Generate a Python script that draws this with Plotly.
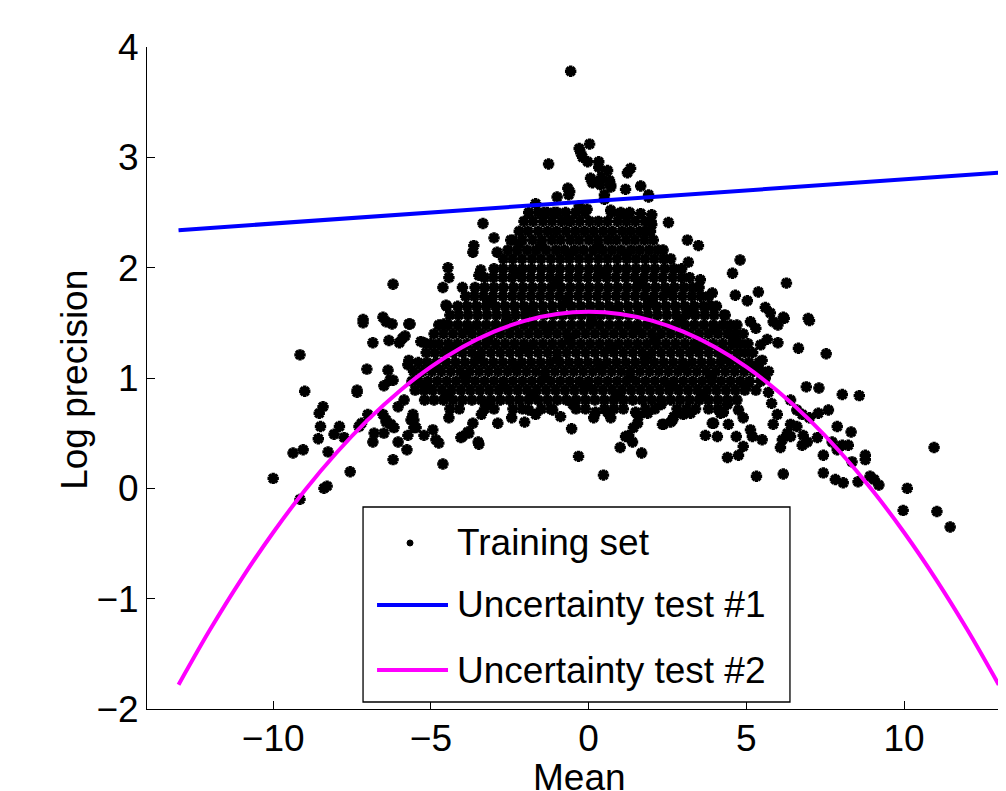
import plotly.graph_objects as go

# ---------------- data ----------------
# Training set, dense core: one entry per log-precision level, with the means seen at that level
core_logprec = [2.50, 2.42, 2.33, 2.25, 2.16, 2.08, 1.99, 1.91, 1.82, 1.74, 1.65,
                1.57, 1.48, 1.40, 1.31, 1.23, 1.14, 1.06, 0.97, 0.89, 0.80, 0.72]
core_mean = [
    [-1.9, -1.6, -1.31, -1.0, -0.73, -0.41, -0.12, 0.72, 1.02, 1.3],
    [-2.05, -1.76, -1.45, -1.16, -0.86, -0.57, -0.28, 0.03, 0.31, 0.6, 0.92, 1.2, 1.48, 1.78, 1.98],
    [-2.2, -1.92, -1.6, -1.3, -1.02, -0.72, -0.42, -0.13, 0.16, 0.46, 0.75, 1.06, 1.33, 1.62, 1.82],
    [-2.4, -2.1, -1.78, -1.48, -1.17, -0.89, -0.58, -0.3, 0.01, 0.3, 0.61, 0.88, 1.19, 1.47, 1.77, 2.05],
    [-2.56, -2.26, -1.95, -1.66, -1.35, -1.04, -0.76, -0.45, -0.16, 0.15, 0.44, 0.74, 1.03, 1.34, 1.62,
     1.92, 2.2, 2.36],
    [-2.7, -2.41, -2.11, -1.8, -1.51, -1.2, -0.9, -0.61, -0.3, 0.0, 0.31, 0.6, 0.9, 1.21, 1.5, 1.79,
     2.08, 2.37, 2.6],
    [-3.0, -2.71, -2.4, -2.1, -1.81, -1.5, -1.2, -0.91, -0.6, -0.3, 0.01, 0.3, 0.6, 0.91, 1.2, 1.5,
     1.8, 2.1, 2.41, 2.7, 2.95],
    [-3.3, -3.02, -2.72, -2.43, -2.12, -1.83, -1.52, -1.22, -0.93, -0.62, -0.33, -0.03, 0.27, 0.57,
     0.86, 1.17, 1.46, 1.76, 2.06, 2.35, 2.66, 2.95, 3.2],
    [-3.6, -3.3, -3.0, -2.7, -2.38, -2.08, -1.78, -1.48, -1.18, -0.88, -0.58, -0.28, 0.02, 0.32, 0.62,
     0.92, 1.22, 1.52, 1.82, 2.12, 2.42, 2.72, 3.02, 3.3, 3.5],
    [-3.9, -3.62, -3.33, -3.03, -2.72, -2.42, -2.13, -1.83, -1.53, -1.23, -0.93, -0.63, -0.33, -0.03,
     0.27, 0.57, 0.87, 1.17, 1.47, 1.77, 2.07, 2.37, 2.67, 2.97, 3.27, 3.55, 3.8],
    [-4.15, -3.85, -3.55, -3.25, -2.95, -2.65, -2.35, -2.05, -1.75, -1.45, -1.15, -0.85, -0.55, -0.25,
     0.05, 0.35, 0.65, 0.95, 1.25, 1.55, 1.85, 2.15, 2.45, 2.75, 3.05, 3.35, 3.65, 3.9, 4.05],
    [-4.4, -4.12, -3.82, -3.52, -3.22, -2.92, -2.62, -2.32, -2.02, -1.72, -1.42, -1.12, -0.82, -0.52,
     -0.22, 0.08, 0.38, 0.68, 0.98, 1.28, 1.58, 1.88, 2.18, 2.48, 2.78, 3.08, 3.38, 3.68, 3.98, 4.3],
    [-4.75, -4.45, -4.15, -3.85, -3.55, -3.25, -2.95, -2.65, -2.35, -2.05, -1.75, -1.45, -1.15, -0.85,
     -0.55, -0.25, 0.05, 0.35, 0.65, 0.95, 1.25, 1.55, 1.85, 2.15, 2.45, 2.75, 3.05, 3.35, 3.65, 3.95,
     4.25, 4.5, 4.7],
    [-4.9, -4.6, -4.3, -4.0, -3.7, -3.4, -3.1, -2.8, -2.5, -2.2, -1.9, -1.6, -1.3, -1.0, -0.7, -0.4,
     -0.1, 0.2, 0.5, 0.8, 1.1, 1.4, 1.7, 2.0, 2.3, 2.6, 2.9, 3.2, 3.5, 3.8, 4.1, 4.4, 4.65, 4.9],
    [-5.0, -4.75, -4.45, -4.15, -3.85, -3.55, -3.25, -2.95, -2.65, -2.35, -2.05, -1.75, -1.45, -1.15,
     -0.85, -0.55, -0.25, 0.05, 0.35, 0.65, 0.95, 1.25, 1.55, 1.85, 2.15, 2.45, 2.75, 3.05, 3.35, 3.65,
     3.95, 4.25, 4.55, 4.8, 5.05],
    [-5.15, -4.88, -4.6, -4.3, -4.0, -3.7, -3.4, -3.1, -2.8, -2.5, -2.2, -1.9, -1.6, -1.3, -1.0, -0.7,
     -0.4, -0.1, 0.2, 0.5, 0.8, 1.1, 1.4, 1.7, 2.0, 2.3, 2.6, 2.9, 3.2, 3.5, 3.8, 4.1, 4.4, 4.7, 4.95, 5.2],
    [-5.4, -5.12, -4.82, -4.52, -4.22, -3.92, -3.62, -3.32, -3.02, -2.72, -2.42, -2.12, -1.82, -1.52,
     -1.22, -0.92, -0.62, -0.32, -0.02, 0.28, 0.58, 0.88, 1.18, 1.48, 1.78, 2.08, 2.38, 2.68, 2.98, 3.28,
     3.58, 3.88, 4.18, 4.48, 4.78, 5.08, 5.4],
    [-5.55, -5.27, -4.97, -4.67, -4.37, -4.07, -3.77, -3.47, -3.17, -2.87, -2.57, -2.27, -1.97, -1.67,
     -1.37, -1.07, -0.77, -0.47, -0.17, 0.13, 0.43, 0.73, 1.03, 1.33, 1.63, 1.93, 2.23, 2.53, 2.83, 3.13,
     3.43, 3.73, 4.03, 4.33, 4.63, 4.93, 5.23, 5.5],
    [-5.6, -5.4, -5.1, -4.8, -4.5, -4.2, -3.9, -3.6, -3.3, -3.0, -2.7, -2.4, -2.1, -1.8, -1.5, -1.2,
     -0.9, -0.6, -0.3, 0.0, 0.3, 0.6, 0.9, 1.2, 1.5, 1.8, 2.1, 2.4, 2.7, 3.0, 3.3, 3.6, 3.9, 4.2, 4.5,
     4.8, 5.1, 5.45],
    [-5.5, -5.22, -4.95, -4.65, -4.35, -4.05, -3.75, -3.45, -3.15, -2.85, -2.55, -2.25, -1.95, -1.65,
     -1.35, -1.05, -0.75, -0.45, -0.15, 0.15, 0.45, 0.75, 1.05, 1.35, 1.65, 1.95, 2.25, 2.55, 2.85, 3.15,
     3.45, 3.75, 4.05, 4.35, 4.65, 4.95, 5.3],
    [-5.2, -4.9, -4.6, -4.3, -4.0, -3.7, -3.4, -3.1, -2.8, -2.5, -2.2, -1.9, -1.6, -1.3, -1.0, -0.7,
     -0.4, -0.1, 0.2, 0.5, 0.8, 1.1, 1.4, 1.7, 2.0, 2.3, 2.6, 2.9, 3.2, 3.5, 3.8, 4.1, 4.4, 4.7],
    [-4.4, -4.1, -3.3, -3.0, -2.4, -2.1, -1.5, -1.2, -0.4, -0.1, 0.5, 0.8, 1.1, 1.8, 2.1, 2.8, 3.1,
     3.8, 4.1],
]

# Training set, scattered points: (mean, log precision)
outlier_points = [
    (-0.57, 3.78), (0.03, 3.12), (-0.3, 3.08), (-0.25, 3.04), (-0.19, 3.0), (-1.27, 2.94),
    (-0.03, 2.96), (0.32, 2.96), (0.32, 2.91), (0.6, 2.88), (1.23, 2.86), (1.33, 2.9),
    (0.06, 2.81), (0.16, 2.78), (0.41, 2.82), (0.66, 2.79), (0.7, 2.73), (1.65, 2.74),
    (-0.66, 2.72), (-0.6, 2.69), (1.17, 2.71), (1.9, 2.66), (0.5, 2.66), (0.12, 2.77),
    (0.38, 2.75), (0.7, 2.75), (1.9, 2.64), (-1.0, 2.64), (-0.63, 2.66), (-1.68, 2.58),
    (-1.42, 2.5), (-1.1, 2.5), (-0.67, 2.43), (-3.35, 2.40), (0.7, 2.52), (1.0, 2.49),
    (1.27, 2.48), (1.65, 2.49), (2.0, 2.48), (2.0, 2.39), (1.96, 2.33), (2.53, 2.41),
    (3.13, 2.25), (3.48, 2.2), (4.8, 2.07), (4.56, 1.95), (4.65, 1.75), (-3.0, 2.27),
    (-3.64, 2.2), (-3.67, 2.14), (-2.47, 2.25), (-2.2, 2.22), (-2.9, 2.14), (-4.46, 2.0),
    (-4.43, 1.91), (-4.62, 1.82), (-4.0, 1.82), (-4.5, 1.65), (-5.7, 1.49), (-3.42, 1.98),
    (-3.48, 1.93), (3.16, 2.05), (3.54, 1.89), (3.92, 1.77), (4.33, 1.57), (-0.3, 2.56),
    (-0.05, 2.53), (0.5, 2.62),
    (-6.2, 1.85), (-6.52, 1.55), (-7.15, 1.53),
    (6.27, 1.86), (5.38, 1.78), (5.03, 1.7), (5.6, 1.64), (5.76, 1.59), (6.17, 1.55), (6.96, 1.54),
    (5.85, 1.51), (6.0, 1.48), (6.2, 1.54), (5.13, 1.51), (7.0, 1.52), (5.66, 1.35), (6.0, 1.32),
    (6.65, 1.27), (7.53, 1.22), (5.5, 1.16), (5.7, 1.06), (5.6, 1.0), (6.9, 0.92), (7.3, 0.91),
    (8.04, 0.85), (8.58, 0.84), (6.4, 0.8), (5.7, 0.87), (5.8, 0.77), (5.98, 0.67), (5.85, 0.58),
    (6.6, 0.71), (6.77, 0.67), (7.0, 0.64), (7.28, 0.68), (7.6, 0.71), (6.4, 0.58), (6.6, 0.56),
    (6.3, 0.5), (6.14, 0.44), (6.4, 0.47), (6.8, 0.48), (6.93, 0.42), (6.77, 0.39), (7.25, 0.46),
    (7.88, 0.56), (8.32, 0.51), (7.72, 0.42), (8.04, 0.39), (8.23, 0.39), (7.88, 0.35), (6.08, 0.37),
    (7.44, 0.3), (8.77, 0.3), (8.77, 0.26), (8.35, 0.24), (7.44, 0.14), (7.82, 0.08), (8.07, 0.05),
    (8.54, 0.06), (8.92, 0.11), (9.05, 0.08), (9.2, 0.03), (10.1, 0.0), (9.97, -0.2), (11.04, -0.21),
    (11.46, -0.35), (10.95, 0.37), (5.32, 0.11), (6.17, 0.13), (4.4, 0.28), (4.75, 0.3), (4.9, 0.38),
    (3.7, 0.48), (4.08, 0.47), (4.68, 0.47), (5.13, 0.53), (5.19, 0.47), (5.5, 0.44), (4.43, 0.58),
    (3.92, 0.59), (2.34, 0.58), (2.66, 0.62), (3.0, 0.67), (4.9, 0.64), (4.75, 0.71), (5.3, 1.45),
    (5.45, 1.3),
    (-9.15, 1.21), (-9.0, 0.88), (-10.0, 0.09), (-9.37, 0.32), (-9.05, 0.35), (-8.42, 0.74),
    (-8.54, 0.68), (-8.5, 0.56), (-8.57, 0.45), (-8.26, 0.33), (-8.07, 0.49), (-7.9, 0.56),
    (-7.75, 0.46), (-7.56, 0.15), (-8.39, 0.0), (-8.29, 0.02), (-9.15, -0.1), (-7.34, 0.89),
    (-7.34, 0.87), (-7.03, 1.08), (-7.15, 1.5), (-6.84, 1.32), (-6.42, 1.51), (-6.23, 1.49),
    (-5.66, 1.49), (-6.33, 1.34), (-6.0, 1.32), (-5.9, 1.36), (-5.82, 1.38), (-5.32, 1.33),
    (-5.22, 1.32), (-4.52, 1.66), (-4.59, 1.49), (-5.7, 1.16), (-5.73, 1.12), (-6.36, 1.07),
    (-6.3, 0.98), (-6.2, 0.98), (-6.49, 0.93), (-7.0, 0.67), (-7.2, 0.59), (-7.28, 0.56),
    (-6.8, 0.5), (-6.84, 0.42), (-6.52, 0.67), (-6.42, 0.62), (-6.27, 0.58), (-6.17, 0.55),
    (-6.04, 0.42), (-5.76, 0.35), (-6.2, 0.26), (-5.73, 0.48), (-5.47, 0.55), (-5.22, 0.48),
    (-4.94, 0.53), (-4.84, 0.44), (-4.75, 0.41), (-6.04, 0.74), (-5.85, 0.8), (-5.57, 0.67),
    (-5.63, 0.62), (-4.62, 0.22), (-4.43, 0.64), (-4.0, 0.47), (-3.83, 0.51), (-3.5, 0.42),
    (-3.67, 0.59), (-3.4, 0.67), (-2.88, 0.59),
    (-4.05, 0.46), (-3.8, 0.5), (-3.48, 0.4), (-2.44, 0.64), (-2.03, 0.6), (-1.9, 0.71),
    (-1.68, 0.67), (-1.14, 0.71), (-0.89, 0.65), (-0.54, 0.54), (-0.32, 0.29), (0.47, 0.12),
    (0.16, 0.64), (0.22, 0.69), (0.6, 0.69), (0.7, 0.64), (1.0, 0.37), (1.17, 0.47), (1.27, 0.48),
    (1.39, 0.42), (1.42, 0.55), (1.55, 0.59), (1.58, 0.65), (1.49, 0.69), (1.68, 0.32),
    (1.87, 0.68), (2.37, 0.58), (2.6, 0.6), (2.7, 0.65), (3.23, 0.68), (3.39, 0.72), (3.96, 0.59),
    (4.18, 0.68), (4.27, 0.69), (-5.54, 0.62), (-5.54, 0.55), (-6.42, 0.6), (-6.49, 0.5),
    # extra points seen inside the dense core, between the row levels
    (-1.5, 2.2), (-0.6, 2.12), (0.3, 2.2), (1.2, 2.12), (-2.2, 1.95), (-1.0, 1.87), (0.4, 1.95),
    (1.6, 1.86), (2.6, 1.78), (-3.1, 1.7), (-1.9, 1.61), (-0.7, 1.69), (0.8, 1.61), (2.0, 1.69),
    (3.2, 1.6), (-3.8, 1.44), (-2.6, 1.52), (-1.3, 1.44), (0.1, 1.52), (1.5, 1.44), (2.9, 1.52),
    (4.0, 1.44), (-4.4, 1.27), (-3.2, 1.35), (-2.0, 1.27), (-0.6, 1.35), (0.7, 1.27), (2.1, 1.35),
    (3.4, 1.27), (4.6, 1.35), (-4.9, 1.1), (-3.5, 1.18), (-2.3, 1.1), (-1.0, 1.18), (0.4, 1.1),
    (1.8, 1.18), (3.0, 1.1), (4.3, 1.18), (5.3, 1.1), (-5.2, 0.93), (-3.9, 1.01), (-2.7, 0.93),
    (-1.4, 1.01), (-0.1, 0.93), (1.3, 1.01), (2.6, 0.93), (3.9, 1.01), (5.0, 0.93), (-4.5, 0.84),
    (-3.2, 0.76), (-1.8, 0.84), (-0.5, 0.76), (0.9, 0.84), (2.3, 0.76), (3.6, 0.84), (4.4, 0.76),
]

# Uncertainty test #1 (straight line) and #2 (curve)
test1_mean = [-13, 13]
test1_logprec = [2.34, 2.86]
test2_mean = [-13, -12, -11, -10, -9, -8, -7, -6, -5, -4, -3, -2, -1, 0,
              1, 2, 3, 4, 5, 6, 7, 8, 9, 10, 11, 12, 13]
test2_logprec = [-1.78, -1.28, -0.82, -0.40, -0.02, 0.32, 0.62, 0.88, 1.10, 1.28, 1.42, 1.52, 1.58, 1.60,
                 1.58, 1.52, 1.42, 1.28, 1.10, 0.88, 0.62, 0.32, -0.02, -0.40, -0.82, -1.28, -1.78]

x_ticks = [-10, -5, 0, 5, 10]
y_ticks = [-2, -1, 0, 1, 2, 3, 4]
legend_labels = ["Training set", "Uncertainty test #1", "Uncertainty test #2"]

# ---------------- assemble ----------------
train_mean, train_logprec = [], []
for level, means in zip(core_logprec, core_mean):
    for m in means:
        train_mean.append(m)
        train_logprec.append(level)
for m, lp in outlier_points:
    train_mean.append(m)
    train_logprec.append(lp)

FONT = "Liberation Sans, Arial, Helvetica, sans-serif"
FS = 37

fig = go.Figure()
fig.add_trace(go.Scatter(
    x=train_mean, y=train_logprec, mode="markers", name=legend_labels[0],
    marker=dict(symbol="asterisk-open", size=9.5, color="black",
                line=dict(color="black", width=3.4)),
    showlegend=False, hoverinfo="skip"))
fig.add_trace(go.Scatter(
    x=test1_mean, y=test1_logprec, mode="lines", name=legend_labels[1],
    line=dict(color="#0000FF", width=4), showlegend=False))
fig.add_trace(go.Scatter(
    x=test2_mean, y=test2_logprec, mode="lines", name=legend_labels[2],
    line=dict(color="#FF00FF", width=4, shape="spline"), showlegend=False))

axis_common = dict(showline=True, linecolor="black", linewidth=1, ticks="inside", ticklen=8,
                   tickcolor="black", tickwidth=1, showgrid=False, zeroline=False, mirror=False,
                   tickfont=dict(family=FONT, size=FS, color="black"))

# the page adds an 8px body margin, so the figure is sized to sit inside the 1006x791 window
fig.update_layout(
    width=998, height=783, autosize=False,
    margin=dict(l=139, r=0, t=39, b=82, pad=0),
    paper_bgcolor="white", plot_bgcolor="white",
    font=dict(family=FONT, size=FS, color="black"),
    xaxis=dict(range=[-14, 13.23], tickvals=x_ticks, ticklabelstandoff=-3, **axis_common),
    yaxis=dict(range=[-2, 4], tickvals=y_ticks, ticklabelstandoff=0, **axis_common),
    showlegend=False,
)

# axis titles
fig.add_annotation(text="Mean", xref="paper", yref="paper", x=0.503, y=-0.103,
                   xanchor="center", yanchor="middle", showarrow=False,
                   font=dict(family=FONT, size=FS, color="black"))
fig.add_annotation(text="Log precision", xref="paper", yref="paper", x=-0.084, y=0.497,
                   xanchor="center", yanchor="middle", textangle=-90, showarrow=False,
                   font=dict(family=FONT, size=FS, color="black"))

# legend box (MATLAB style)
box = dict(x0=0.2515, x1=0.7485, y0=0.0106, y1=0.3051)
fig.add_shape(type="rect", xref="paper", yref="paper", **box,
              line=dict(color="black", width=1.3), fillcolor="white", layer="above")
rows_y = [0.2508, 0.1571, 0.0589]
fig.add_shape(type="circle", xref="paper", yref="paper", xsizemode="pixel", ysizemode="pixel",
              xanchor=0.3062, yanchor=rows_y[0], x0=-3, x1=3, y0=-3, y1=3,
              fillcolor="black", line=dict(color="black", width=1), layer="above")
for yy, col in zip(rows_y[1:], ["#0000FF", "#FF00FF"]):
    fig.add_shape(type="line", xref="paper", yref="paper", x0=0.2678, x1=0.3504, y0=yy, y1=yy,
                  line=dict(color=col, width=4), layer="above")
for yy, lab in zip(rows_y, legend_labels):
    fig.add_annotation(text=lab, xref="paper", yref="paper", x=0.3586, y=yy,
                       xanchor="left", yanchor="middle", showarrow=False,
                       font=dict(family=FONT, size=FS, color="black"))

fig.write_html("out.html")
